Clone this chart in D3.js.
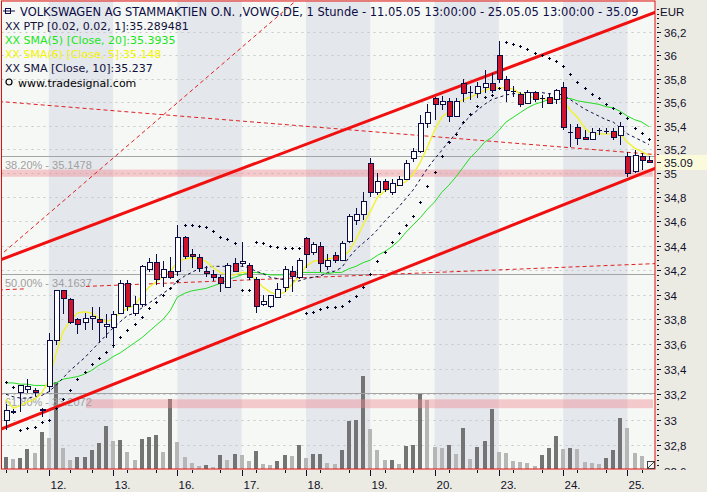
<!DOCTYPE html>
<html><head><meta charset="utf-8">
<script src="https://cdn.jsdelivr.net/npm/d3@7"></script>
<style>
body{margin:0;background:#ecebe3;}
svg{display:block;font-family:"Liberation Sans",Arial,sans-serif;}
</style>
</head><body>
<svg id="c" width="707" height="492"></svg>
<script>
// ---------------- DATA ----------------
const dayLabels   = ["11.","12.","13.","16.","17.","18.","19.","20.","23.","24.","25."];
const dayStartIdx = [0,6,15,24,33,42,51,60,69,78,87];
const minorTickIdx = [0,3,9,12,17,21,26,30,35,39,44,48,53,57,62,66,71,75,80,84,89];

const open = [32.99,33.06,33.21,33.24,33.23,33.07,33.26,33.63,34.03,33.96,
33.80,33.77,33.81,33.80,33.74,33.73,33.85,34.09,33.85,33.92,
34.20,34.26,34.14,34.19,34.19,34.47,34.33,34.30,34.19,34.16,
34.14,34.06,34.25,34.25,34.24,34.12,33.92,33.90,33.98,34.06,
34.19,34.14,34.46,34.34,34.39,34.23,34.32,34.28,34.43,34.61,
34.66,35.08,34.84,34.93,34.84,34.90,34.95,35.12,35.18,35.42,
35.63,35.58,35.60,35.48,35.76,35.67,35.67,35.72,35.76,36.00,
35.79,35.69,35.66,35.59,35.68,35.62,35.64,35.62,35.72,35.33,
35.38,35.30,35.28,35.35,35.35,35.35,35.32,35.14,35.01,35.14,35.11];
const high = [33.12,33.08,33.27,33.32,33.25,33.09,33.69,34.04,34.04,33.97,
33.81,33.85,33.90,33.90,33.84,33.87,34.12,34.12,33.99,34.24,
34.30,34.33,34.27,34.31,34.57,34.48,34.37,34.33,34.23,34.20,
34.16,34.26,34.30,34.43,34.26,34.14,34.00,34.00,34.09,34.23,
34.23,34.30,34.47,34.43,34.43,34.33,34.35,34.44,34.66,34.71,
34.84,35.13,35.00,34.95,34.95,34.98,35.11,35.21,35.49,35.58,
35.64,35.65,35.63,35.63,35.80,35.74,35.77,35.87,35.85,36.12,
35.82,35.74,35.68,35.70,35.69,35.66,35.68,35.71,35.77,35.41,
35.41,35.36,35.38,35.38,35.38,35.38,35.43,35.18,35.19,35.17,35.14];
const low = [32.92,33.04,33.06,33.21,33.19,33.02,33.22,33.59,33.84,33.76,
33.68,33.71,33.71,33.61,33.65,33.57,33.84,33.87,33.83,33.90,
34.18,34.08,34.06,34.13,34.15,34.29,34.22,34.18,34.14,34.11,
34.02,34.05,34.18,34.23,34.12,33.85,33.91,33.89,33.97,34.02,
34.02,34.13,34.22,34.32,34.18,34.20,34.26,34.27,34.42,34.57,
34.61,34.80,34.82,34.84,34.82,34.89,34.95,35.09,35.17,35.38,
35.45,35.53,35.43,35.48,35.60,35.62,35.63,35.68,35.68,35.76,
35.60,35.64,35.56,35.58,35.60,35.55,35.58,35.58,35.36,35.22,
35.24,35.28,35.28,35.32,35.33,35.28,35.24,34.97,35.00,35.03,35.09];
const close = [33.07,33.06,33.27,33.26,33.21,33.08,33.63,34.03,33.97,33.77,
33.76,33.81,33.82,33.77,33.76,33.84,34.09,33.90,33.92,34.23,
34.26,34.12,34.20,34.14,34.47,34.31,34.31,34.21,34.17,34.14,
34.09,34.24,34.19,34.27,34.14,33.90,33.94,33.99,34.04,34.20,
34.15,34.28,34.33,34.41,34.25,34.28,34.28,34.42,34.64,34.66,
34.76,34.84,34.93,34.86,34.91,34.95,35.08,35.18,35.42,35.51,
35.58,35.60,35.48,35.60,35.67,35.68,35.73,35.76,35.70,35.79,
35.70,35.68,35.58,35.68,35.62,35.63,35.59,35.70,35.38,35.34,
35.29,35.28,35.34,35.36,35.34,35.30,35.39,35.00,35.15,35.11,35.09];
// volume in thousand shares
const volumeK = [12,10,11,20,16,37,31,87,21,9,12,12,19,26,43,28,29,17,9,30,
32,34,17,70,27,12,6,3,4,2,14,9,15,14,8,18,5,4,8,14,
13,24,11,15,15,6,5,19,48,49,93,40,19,9,9,5,23,24,75,69,
22,21,24,15,41,10,22,28,60,17,16,8,7,6,3,14,21,33,20,21,
20,7,6,5,11,19,51,41,16,13,8];
// SMA [Close,20] (green)
const sma20 = [33.29,33.29,33.28,33.28,33.27,33.27,33.27,33.29,33.32,33.33,
33.34,33.36,33.39,33.43,33.46,33.50,33.53,33.57,33.61,33.65,
33.70,33.75,33.80,33.87,33.98,34.01,34.03,34.04,34.05,34.07,
34.09,34.12,34.14,34.16,34.18,34.18,34.17,34.16,34.16,34.16,
34.17,34.18,34.18,34.18,34.18,34.17,34.18,34.18,34.21,34.23,
34.26,34.28,34.32,34.35,34.39,34.44,34.51,34.57,34.63,34.70,
34.76,34.84,34.90,34.97,35.05,35.13,35.19,35.26,35.30,35.36,
35.43,35.47,35.51,35.55,35.58,35.60,35.62,35.63,35.63,35.63,
35.61,35.60,35.59,35.58,35.56,35.55,35.52,35.48,35.45,35.43,35.39];
// SMA [Close,5] (yellow)
const sma5 = [33.16,33.09,33.11,33.14,33.16,33.21,33.31,33.52,33.70,33.79,
33.85,33.86,33.85,33.81,33.78,33.80,33.85,33.89,33.91,33.99,
34.06,34.10,34.15,34.19,34.26,34.29,34.30,34.29,34.27,34.22,
34.18,34.16,34.16,34.18,34.18,34.12,34.06,34.02,34.00,34.02,
34.08,34.14,34.23,34.27,34.28,34.29,34.30,34.31,34.35,34.45,
34.57,34.68,34.80,34.85,34.88,34.90,34.93,34.99,35.09,35.22,
35.36,35.47,35.52,35.58,35.62,35.64,35.67,35.70,35.72,35.72,
35.72,35.71,35.67,35.66,35.63,35.63,35.62,35.63,35.62,35.53,
35.47,35.38,35.33,35.33,35.33,35.33,35.33,35.26,35.21,35.18,35.15];
// SMA [Close,10] (dashed)
const sma10 = [33.20,33.18,33.17,33.17,33.18,33.19,33.22,33.27,33.33,33.39,
33.44,33.49,33.55,33.61,33.67,33.73,33.78,33.83,33.85,33.89,
33.93,33.97,34.01,34.05,34.11,34.15,34.18,34.21,34.22,34.23,
34.23,34.23,34.23,34.23,34.22,34.19,34.17,34.14,34.13,34.12,
34.11,34.11,34.13,34.14,34.15,34.18,34.19,34.22,34.30,34.37,
34.42,34.47,34.53,34.60,34.66,34.72,34.79,34.86,34.95,35.04,
35.12,35.19,35.27,35.33,35.42,35.48,35.53,35.58,35.62,35.64,
35.66,35.67,35.68,35.68,35.68,35.68,35.67,35.67,35.66,35.62,
35.58,35.54,35.51,35.48,35.45,35.43,35.38,35.33,35.30,35.27,35.24];
// PTP (parabolic) [0.02, 0.02, 1]
const ptp = [33.30,33.26,32.92,32.93,32.94,32.98,33.00,33.09,33.16,33.23,
33.32,33.38,33.44,33.49,33.54,33.59,33.66,33.71,33.76,33.82,
33.89,33.94,34.00,34.05,34.11,34.57,34.57,34.56,34.55,34.52,
34.47,34.45,34.42,34.04,34.04,34.43,34.42,34.40,34.39,34.38,
34.38,34.38,33.85,33.86,33.88,33.90,33.90,33.91,33.95,33.99,
34.06,34.17,34.27,34.35,34.43,34.50,34.57,34.64,34.76,34.89,
35.01,35.14,35.26,35.33,35.43,35.50,35.57,35.64,35.66,35.72,
36.11,36.10,36.08,36.05,36.02,36.00,35.98,35.95,35.91,35.84,
35.77,35.72,35.67,35.63,35.58,35.55,35.51,35.46,35.38,35.34,35.29];

const yTickValues = [32.6,32.8,33,33.2,33.4,33.6,33.8,34,34.2,34.4,34.6,34.8,35,35.2,35.4,35.6,35.8,36,36.2];
const lastPrice = 35.09;
const fibLevels = [{pct:"38.20%", value:35.1478},{pct:"50.00%", value:34.1637},{pct:"61.80%", value:33.2072}];
const zones = [{lo:34.97, hi:35.03, fromIdx:-1}, {lo:33.09, hi:33.16, fromIdx:11.2}];
// trend lines, anchor points [barIndex, price]
const upperChannel = [[0,34.30],[90,36.35]];
const lowerChannel = [[0,32.94],[90,35.02]];
const dashSteep    = [[0,34.36],[40,36.44]];
const dashUpper    = [[0,35.60],[90,35.16]];
const dashLower    = [[0,34.04],[90,34.25]];
const legendLines = [
  {text:"XX PTP [0.02, 0.02, 1]:35.289481", color:"#10103c"},
  {text:"XX SMA(5) [Close, 20]:35.3935", color:"#19e619"},
  {text:"XX SMA(6) [Close, 5]:35.148", color:"#f4f400"},
  {text:"XX SMA [Close, 10]:35.237", color:"#10103c"}
];
const title = "VOLKSWAGEN AG STAMMAKTIEN O.N. ,VOWG.DE, 1 Stunde - 11.05.05 13:00:00 - 25.05.05 13:00:00 - 35.09";

// ---------------- CHART ----------------
const W = 707, H = 492;
const P = {l:1.5, r:655, t:1, b:469};
const svg = d3.select("#c");
svg.append("rect").attr("width",W).attr("height",H).attr("fill","#ecebe3");

const x = d3.scaleLinear().domain([-0.55, 90.85]).range([2, 655]);
const y = d3.scaleLog().domain([32.6126, 36.469]).range([469, 1]);
const vy = d3.scaleLinear().domain([0, 100]).range([469, 369]);
const navy = "#0c0c44";

const defs = svg.append("defs");
defs.append("clipPath").attr("id","pc")
  .append("rect").attr("x",P.l).attr("y",P.t).attr("width",P.r-P.l).attr("height",P.b-P.t);
const g = svg.append("g").attr("clip-path","url(#pc)");

g.append("rect").attr("x",P.l).attr("y",P.t).attr("width",P.r-P.l).attr("height",P.b-P.t).attr("fill","#f6f8f6");
dayStartIdx.forEach((s,k)=>{
  const x0 = k===0 ? P.l : x(s);
  const x1 = k+1<dayStartIdx.length ? x(dayStartIdx[k+1]) : P.r;
  if (k%2===1) g.append("rect").attr("x",x0).attr("y",P.t).attr("width",x1-x0).attr("height",P.b-P.t).attr("fill","#e4e7ec");
});

// grid
g.selectAll("line.grid").data(yTickValues).join("line").attr("class","grid")
  .attr("x1",P.l).attr("x2",P.r).attr("y1",d=>Math.round(y(d))+0.5).attr("y2",d=>Math.round(y(d))+0.5)
  .attr("stroke","#c6c8c8").attr("stroke-dasharray","2,4");

// volume
g.selectAll("rect.vol").data(volumeK).join("rect").attr("class","vol")
  .attr("x",(d,i)=>Math.round(x(i))-2).attr("width",4)
  .attr("y",d=>vy(d)).attr("height",d=>P.b-vy(d))
  .attr("fill",(d,i)=> (i===0 || d>=volumeK[i-1]) ? "#747474" : "#b6b6b6");

// zones
zones.forEach(z=>{
  const x0 = Math.max(P.l, x(z.fromIdx));
  g.append("rect").attr("x",x0).attr("width",653-x0).attr("y",y(z.hi)).attr("height",y(z.lo)-y(z.hi))
   .attr("fill","#f08890").attr("opacity",0.42);
});

// fib lines
fibLevels.forEach(f=>{
  const yy = Math.round(y(f.value))+0.5;
  g.append("line").attr("x1",P.l).attr("x2",P.r).attr("y1",yy).attr("y2",yy).attr("stroke","#a4a4a4");
  g.append("text").attr("x",5).attr("y",yy+12).attr("font-size",11).attr("fill","#a0a0a0")
   .text(f.pct+" - "+f.value.toFixed(4));
});

// straight line (in chart space) through two anchors, extended between bar positions i0..i1
function trend(pts,i0,i1,stroke,w,dash){
  const [a,b] = pts;
  const ax = x(a[0]), ay = y(a[1]), bx = x(b[0]), by = y(b[1]);
  const k = (by-ay)/(bx-ax);
  const X0 = x(i0), X1 = x(i1);
  g.append("line").attr("x1",X0).attr("y1",ay+k*(X0-ax)).attr("x2",X1).attr("y2",ay+k*(X1-ax))
   .attr("stroke",stroke).attr("stroke-width",w).attr("stroke-dasharray",dash||null);
}
trend(dashSteep,-1,45,"#e02020",1,"4,3");
trend(dashUpper,-1,92,"#e02020",1,"4,3");
trend(dashLower,-1,2.6,"#e02020",1,"4,3");
trend(dashLower,11.2,92,"#e02020",1,"4,3");
trend(upperChannel,-1,92,"#f01010",3);
trend(lowerChannel,-1,92,"#f01010",3);

// indicator lines
const ln = d3.line().x((d,i)=>x(i)).y(d=>y(d));
g.append("path").attr("d",ln(sma20)).attr("fill","none").attr("stroke","#22dd22").attr("stroke-width",1);
g.append("path").attr("d",ln(sma10)).attr("fill","none").attr("stroke",navy).attr("stroke-width",1).attr("stroke-dasharray","3,3");
g.append("path").attr("d",ln(sma5)).attr("fill","none").attr("stroke","#f2f230").attr("stroke-width",1.4);

// candles
const cg = g.append("g").attr("shape-rendering","crispEdges");
open.forEach((o,i)=>{
  const cx = Math.round(x(i))+0.5, c = close[i];
  cg.append("line").attr("x1",cx).attr("x2",cx).attr("y1",y(high[i])).attr("y2",y(low[i])).attr("stroke",navy);
  const top = y(Math.max(o,c)), bot = y(Math.min(o,c));
  if (Math.abs(bot-top) < 1.2) {
    cg.append("line").attr("x1",cx-2.5).attr("x2",cx+2.5).attr("y1",top).attr("y2",top).attr("stroke",navy).attr("stroke-width",1.5);
  } else {
    cg.append("rect").attr("x",cx-2.5).attr("y",top).attr("width",5).attr("height",bot-top)
      .attr("fill", c>=o ? "#ffffff" : "#d0142c").attr("stroke",navy);
  }
});

// PTP dots
const pg = g.append("g").attr("shape-rendering","crispEdges");
ptp.forEach((v,i)=>{
  const cx = Math.round(x(i))+0.5, cy = Math.round(y(v))+0.5;
  pg.append("path").attr("d",`M${cx-1.5},${cy}H${cx+1.5}M${cx},${cy-1.5}V${cy+1.5}`).attr("stroke","#000022").attr("stroke-width",1);
});

// legend
const lg = svg.append("g").attr("font-size",11).attr("font-family","'DejaVu Sans',sans-serif");
lg.append("rect").attr("x",5.5).attr("y",8.5).attr("width",5).attr("height",5).attr("fill","none").attr("stroke",navy);
lg.append("line").attr("x1",3).attr("x2",15).attr("y1",11).attr("y2",11).attr("stroke",navy);
lg.append("text").attr("x",20).attr("y",15.5).attr("fill",navy).attr("font-size",11.5).text(title);
legendLines.forEach((l,k)=>{
  lg.append("text").attr("x",5).attr("y",29.5+k*14.2).attr("fill",l.color).text(l.text);
});
lg.append("circle").attr("cx",9).attr("cy",82).attr("r",3).attr("fill","none").attr("stroke","#000").attr("stroke-width",1.2);
lg.append("text").attr("x",18).attr("y",86.5).attr("fill","#000").text("www.tradesignal.com");

// plot frame
svg.append("rect").attr("x",P.l).attr("y",P.t).attr("width",P.r-P.l).attr("height",P.b-P.t)
  .attr("fill","none").attr("stroke","#e01010").attr("stroke-width",1);

// right axis
defs.append("clipPath").attr("id","ax").append("rect").attr("x",655).attr("y",0).attr("width",52).attr("height",470);
const ra = svg.append("g").attr("clip-path","url(#ax)").attr("font-size",11.5).attr("fill","#10102a");
ra.append("text").attr("x",660).attr("y",16).text("EUR");
const fmt = d3.formatLocale({decimal:",",thousands:".",grouping:[3],currency:["","€"]}).format(".1~f");
yTickValues.forEach(v=>{
  const yy = Math.round(y(v))+0.5;
  ra.append("line").attr("x1",657).attr("x2",661).attr("y1",yy).attr("y2",yy).attr("stroke","#10102a");
  ra.append("text").attr("x",664).attr("y",yy).attr("dy","0.36em").text(fmt(v));
});
d3.range(32.6, 36.44, 0.04).forEach(v=>{
  const yy = Math.round(y(v))+0.5;
  ra.append("line").attr("x1",657).attr("x2",659).attr("y1",yy).attr("y2",yy).attr("stroke","#10102a");
});
const ly = y(lastPrice);
ra.append("rect").attr("x",656).attr("y",ly-7.5).attr("width",51).attr("height",15).attr("fill","#fbfbdc");
ra.append("line").attr("x1",657).attr("x2",661).attr("y1",Math.round(ly)+0.5).attr("y2",Math.round(ly)+0.5).attr("stroke","#10102a");
ra.append("text").attr("x",664).attr("y",ly).attr("dy","0.36em").text(lastPrice.toFixed(2));

// bottom axis
const ba = svg.append("g").attr("font-size",11.5).attr("fill","#10102a");
minorTickIdx.forEach(i=>{
  const xx = Math.round(x(i))+0.5;
  ba.append("line").attr("x1",xx).attr("x2",xx).attr("y1",470).attr("y2",473).attr("stroke","#10102a");
});
dayStartIdx.forEach((s,k)=>{
  if (k===0) return;
  const xx = Math.round(x(s))+0.5;
  ba.append("line").attr("x1",xx).attr("x2",xx).attr("y1",470).attr("y2",476).attr("stroke","#10102a");
  ba.append("text").attr("x",xx+1).attr("y",489).text(dayLabels[k]);
});

// corner handle
svg.append("rect").attr("x",647.5).attr("y",461.5).attr("width",7).attr("height",7).attr("fill","#f4f4f4").attr("stroke","#404040");
svg.append("line").attr("x1",648).attr("y1",468).attr("x2",654).attr("y2",462).attr("stroke","#404040");
</script>
</body></html>
